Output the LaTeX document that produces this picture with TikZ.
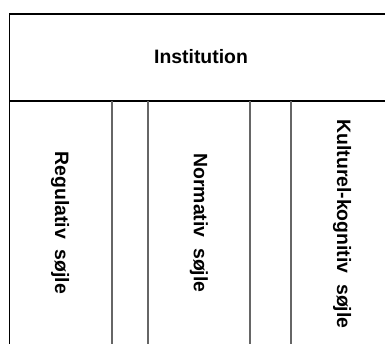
\documentclass[tikz,border=0pt]{standalone}
\usepackage{fontspec}
\setmainfont{Liberation Sans}
\begin{document}
\begin{tikzpicture}[x=0.5pt,y=-0.5pt,
  hline/.style={draw=black,line width=0.6pt},
  vline/.style={draw=black!60,line width=0.6pt},
  lbl/.style={font=\fontsize{9.7}{11}\selectfont\bfseries,inner sep=0pt},
  pillar/.style={lbl,rotate=-90}]
\useasboundingbox (0,0) rectangle (385,343);
\fill[white] (0,0) rectangle (385,343);
\node[lbl] (inst) at (201,57) {Institution};
\node[pillar] (reg) at (60,223) {Regulativ\ \ søjle};
\node[pillar] (norm) at (199,223) {Normativ\ \ søjle};
\node[pillar] (kult) at (342,224) {Kulturel-kognitiv\ \ søjle};
\draw[hline] (9.5,360) -- (9.5,14) -- (400,14);
\draw[hline] (9.5,101) -- (400,101);
\foreach \x in {112,148,250,291}
  \draw[vline] (\x,101) -- (\x,360);
\end{tikzpicture}
\end{document}
